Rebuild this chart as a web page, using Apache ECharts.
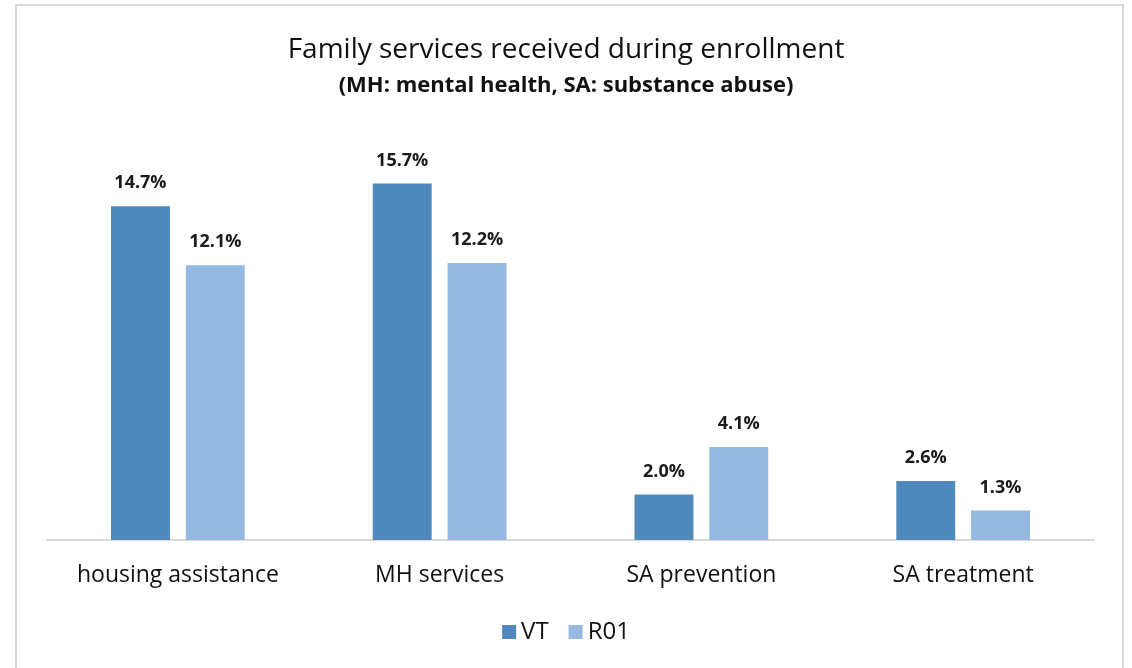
<!DOCTYPE html>
<html>
<head>
<meta charset="utf-8">
<script src="https://cdn.jsdelivr.net/npm/echarts@6/dist/echarts.min.js"></script>
<style>
  html, body { margin: 0; padding: 0; background: #fff; }
  #chart { width: 1132px; height: 668px; }
</style>
</head>
<body>
<div id="chart"></div>
<script>
const categories = ['housing assistance', 'MH services', 'SA prevention', 'SA treatment']
const vtValues = [14.7, 15.7, 2.0, 2.6]
const r01Values = [12.1, 12.2, 4.1, 1.3]

const chart = echarts.init(document.getElementById('chart'))

const labelStyle = {
  show: true,
  position: 'top',
  distance: 14,
  fontFamily: 'Open Sans',
  fontWeight: 'bold',
  fontSize: 18,
  color: '#1a1a1a',
  formatter: p => p.value.toFixed(1) + '%'
}

chart.setOption({
  animation: false,
  title: [
    {
      text: 'Family services received during enrollment',
      left: 'center',
      top: 31,
      textStyle: { fontFamily: 'Open Sans', fontSize: 28, fontWeight: 'normal', color: '#111' }
    },
    {
      text: '(MH: mental health, SA: substance abuse)',
      left: 'center',
      top: 70,
      textStyle: { fontFamily: 'Open Sans', fontSize: 22, fontWeight: 'bold', color: '#111' }
    }
  ],
  graphic: [{
    type: 'rect',
    shape: { x: 16, y: 5, width: 1107, height: 700 },
    style: { fill: 'none', stroke: '#d9d9d9', lineWidth: 2 },
    silent: true
  }],
  legend: {
    bottom: 19,
    left: 'center',
    itemWidth: 14,
    itemHeight: 14,
    itemGap: 20,
    icon: 'rect',
    textStyle: { fontFamily: 'Open Sans', fontSize: 24, color: '#111' },
    data: ['VT', 'R01']
  },
  grid: {
    left: 47,
    right: 38,
    top: 86,
    bottom: 128
  },
  xAxis: {
    type: 'category',
    data: categories,
    axisTick: { show: false },
    axisLine: { lineStyle: { color: '#d9d9d9', width: 2 } },
    axisLabel: {
      interval: 0,
      margin: 24,
      fontFamily: 'Open Sans',
      fontSize: 23,
      color: '#111'
    }
  },
  yAxis: {
    type: 'value',
    min: 0,
    max: 20,
    show: false
  },
  series: [
    {
      name: 'VT',
      type: 'bar',
      data: vtValues,
      barWidth: '22.5%',
      barGap: '27%',
      itemStyle: { color: '#4f88bc' },
      label: labelStyle
    },
    {
      name: 'R01',
      type: 'bar',
      data: r01Values,
      barWidth: '22.5%',
      itemStyle: { color: '#95b9e0' },
      label: labelStyle
    }
  ]
})
</script>
</body>
</html>
